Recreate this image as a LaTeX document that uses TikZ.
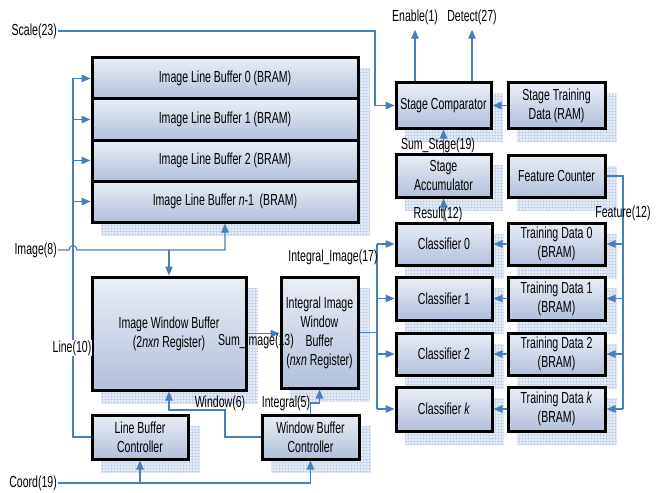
\documentclass[tikz,border=0pt]{standalone}
\usepackage{fontspec}
\setmainfont{Liberation Sans}[FakeStretch=0.66]
\usetikzlibrary{arrows.meta,backgrounds,calc}
\definecolor{conn}{HTML}{4A7EBB}
\definecolor{boxtop}{HTML}{E9EEF6}
\definecolor{boxbot}{HTML}{B2C0DA}
\definecolor{shfill}{HTML}{E8EEF7}
\definecolor{shline}{HTML}{CAD7EB}
\tikzset{
  blk/.style={draw=black, line width=3pt, top color=boxtop, bottom color=boxbot,
    align=center, inner sep=1pt, font=\fontsize{16}{19}\selectfont},
  lbl/.style={font=\fontsize{16}{19}\selectfont, inner sep=1pt},
  wire/.style={draw=conn, line width=1.1pt},
  arr/.style={wire, -{Triangle[length=9pt,width=7.5pt]}},
  shfillst/.style={fill=shfill},
  shgrid/.style={draw=shline, line width=0.35pt, step=3pt},
}
\newcommand\boxshadow[2]{%
  \fill[shfillst] ([shift={(10,12)}]#1.north west) rectangle ([shift={(10,12)}]#2.south east);
  \draw[shgrid] ([shift={(10,12)}]#1.north west) grid ([shift={(10,12)}]#2.south east);}
\begin{document}
\begin{tikzpicture}[x=1pt,y=-1pt]
\useasboundingbox (0,0) rectangle (660,492);
% ---- line buffers
\node[blk, minimum width=266, minimum height=41] (lb0) at (225,78.5) {Image Line Buffer 0 (BRAM)};
\node[blk, minimum width=266, minimum height=41] (lb1) at (225,119.5) {Image Line Buffer 1 (BRAM)};
\node[blk, minimum width=266, minimum height=41] (lb2) at (225,160.5) {Image Line Buffer 2 (BRAM)};
\node[blk, minimum width=266, minimum height=41] (lb3) at (225,201.5) {Image Line Buffer \textit{n}-1\, (BRAM)};
% ---- window buffers
\node[blk, minimum width=154, minimum height=113] (iwb) at (169,333.5) {Image Window Buffer\\(2\textit{nxn} Register)};
\node[blk, minimum width=77, minimum height=111] (iiwb) at (319.5,332.5) {Integral Image\\Window\\Buffer\\(\textit{nxn} Register)};
\node[blk, minimum width=96, minimum height=44] (lbc) at (140,437) {Line Buffer\\Controller};
\node[blk, minimum width=97, minimum height=44] (wbc) at (310.5,437) {Window Buffer\\Controller};
% ---- stage
\node[blk, minimum width=95, minimum height=45] (sc) at (443.5,105.5) {Stage Comparator};
\node[blk, minimum width=97, minimum height=45] (std) at (556.5,105.5) {Stage Training\\Data (RAM)};
\node[blk, minimum width=95, minimum height=43] (sa) at (443.5,175.5) {Stage\\Accumulator};
\node[blk, minimum width=97, minimum height=42] (fc) at (556.5,176) {Feature Counter};
% ---- classifiers
\node[blk, minimum width=96, minimum height=42] (cl0) at (444,244) {Classifier 0};
\node[blk, minimum width=96, minimum height=43] (cl1) at (444,298.5) {Classifier 1};
\node[blk, minimum width=96, minimum height=42] (cl2) at (444,354) {Classifier 2};
\node[blk, minimum width=96, minimum height=44] (clk) at (444,409) {Classifier \textit{k}};
\node[blk, minimum width=97, minimum height=42] (td0) at (556.5,244) {Training Data 0\\(BRAM)};
\node[blk, minimum width=97, minimum height=43] (td1) at (556.5,298.5) {Training Data 1\\(BRAM)};
\node[blk, minimum width=97, minimum height=42] (td2) at (556.5,354) {Training Data 2\\(BRAM)};
\node[blk, minimum width=97, minimum height=44] (tdk) at (556.5,409) {Training Data \textit{k}\\(BRAM)};
% ---- shadows
\begin{pgfonlayer}{background}
  \boxshadow{lb0}{lb3}
  \boxshadow{iwb}{iwb}
  \boxshadow{iiwb}{iiwb}
  \boxshadow{lbc}{lbc}
  \boxshadow{wbc}{wbc}
  \boxshadow{sc}{sc}
  \boxshadow{std}{std}
  \boxshadow{sa}{sa}
  \boxshadow{fc}{fc}
  \foreach \n in {cl0,cl1,cl2,clk,td0,td1,td2,tdk} {\boxshadow{\n}{\n}}
\end{pgfonlayer}
% ---- outer labels with connectors
\node[lbl, anchor=east] (scale) at (58,31) {Scale(23)};
\node[lbl, anchor=east] (image) at (58,250) {Image(8)};
\node[lbl, anchor=east] (coord) at (58,483) {Coord(19)};
\node[lbl] (en) at (415,17) {Enable(1)};
\node[lbl] (det) at (472,17) {Detect(27)};
% ---- coordinates
\coordinate (sj) at (375,31);
\coordinate (ij) at (225,250);
\coordinate (lbus) at (73,78.5);
\coordinate (fbus) at (623,409);
\coordinate (cb0) at (377,244);
\coordinate (cbk) at (377,409);
\coordinate (w1) at (225,410);
\coordinate (i1) at (319.5,403);
% ---- connectors
\draw[arr] (scale.east) -- (sj) |- (sc.west);
\draw[arr] (en.south |- sc.north) -- ([yshift=-4pt]en.south);
\draw[arr] (det.south |- sc.north) -- ([yshift=-4pt]det.south);
\draw[arr] (std.west) -- (sc.east);
\draw[arr] (sa.north) -- (sc.south);
\draw[arr] (cl0.north) -- (sa.south);
\foreach \i in {0,1,2,k} {\draw[arr] (td\i.west) -- (cl\i.east);}
\draw[wire] (fc.east) -| (fbus);
\foreach \i in {0,1,2,k} {\draw[arr] (td\i.east -| fbus) -- (td\i.east);}
\draw[wire] (cb0) -- (cbk);
\draw[wire] (iiwb.east) -- (iiwb.east -| cb0);
\foreach \i in {0,1,2,k} {\draw[arr] (cl\i.west -| cb0) -- (cl\i.west);}
\draw[arr] (iwb.east) -- (iwb.east -| iiwb.west);
\draw[arr] (image.east) -- (69,250) .. controls (69,244) and (77,244) .. (77,250) -- (ij) -- (lb3.south);
\draw[arr] (image.east -| iwb.north) -- (iwb.north);
\draw[wire] (lbc.west) -| (lbus);
\foreach \i in {0,1,2,3} {\draw[arr] (lb\i.west -| lbus) -- (lb\i.west);}
\draw[arr] (wbc.west) -| (w1) -| (iwb.south);
\draw[arr] (wbc.north) |- (i1) -- (iiwb.south);
\draw[arr] (coord.east) -| (wbc.south);
\draw[arr] (coord.east -| lbc.south) -- (lbc.south);
% ---- free labels
\node[lbl] (lsumstage) at (438,145) {Sum\_Stage(19)};
\node[lbl] (lresult) at (438,214) {Result(12)};
\node[lbl] (lfeature) at (623,213) {Feature(12)};
\node[lbl] (lintimg) at (333,257) {Integral\_Image(17)};
\node[lbl] (lsumimg) at (256,341) {Sum\_Image(13)};
\node[lbl] (lwindow) at (220,403) {Window(6)};
\node[lbl] (lintegral) at (286,403) {Integral(5)};
\node[lbl, fill=white] (lline) at (72,348) {Line(10)};
\end{tikzpicture}
\end{document}
